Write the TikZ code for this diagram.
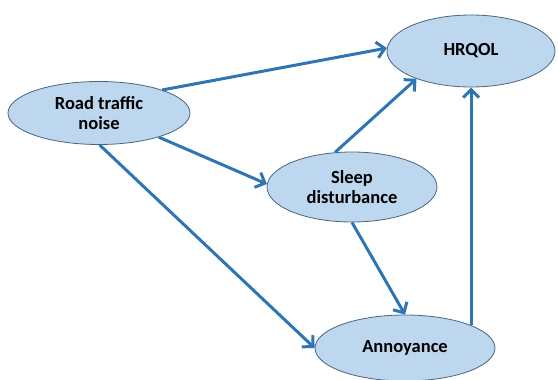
\documentclass[tikz,border=0pt]{standalone}
\usepackage{fontspec}
\setmainfont{Carlito}
\usetikzlibrary{shapes.geometric,arrows.meta}

\definecolor{linkblue}{HTML}{2E75B6}
\definecolor{factorfill}{HTML}{BDD7EE}
\definecolor{factorline}{HTML}{4A6580}

\begin{document}
\begin{tikzpicture}[x=1pt,y=-1pt,
  factor/.style={ellipse, draw=factorline, thick, fill=factorfill, inner sep=0pt,
    align=center, font=\fontsize{18.5}{20}\selectfont\bfseries},
  link/.style={draw=linkblue, line width=3pt, -{Straight Barb[length=8pt,width=16pt]}}]

\useasboundingbox (0,0) rectangle (558,380);

% the four factors
\node[factor, minimum width=182, minimum height=63] (noise) at (99,113) {Road traffic\\noise};
\node[factor, minimum width=168, minimum height=72] (hrqol) at (471,51) {HRQOL};
\node[factor, minimum width=170, minimum height=70] (sleep) at (352,187) {Sleep\\disturbance};
\node[factor, minimum width=180, minimum height=66] (annoy) at (405,348) {Annoyance};

% paths
\draw[link] (noise.20) -- (hrqol.178);
\draw[link] (noise.-22) -- (sleep.178);
\draw[link] (noise.-89) -- (annoy.west);
\draw[link] (sleep.116) -- (hrqol.-153);
\draw[link] (sleep.south) -- (annoy.north);
\draw[link] (annoy.19) -- (annoy.19 |- hrqol.south);
\end{tikzpicture}
\end{document}
